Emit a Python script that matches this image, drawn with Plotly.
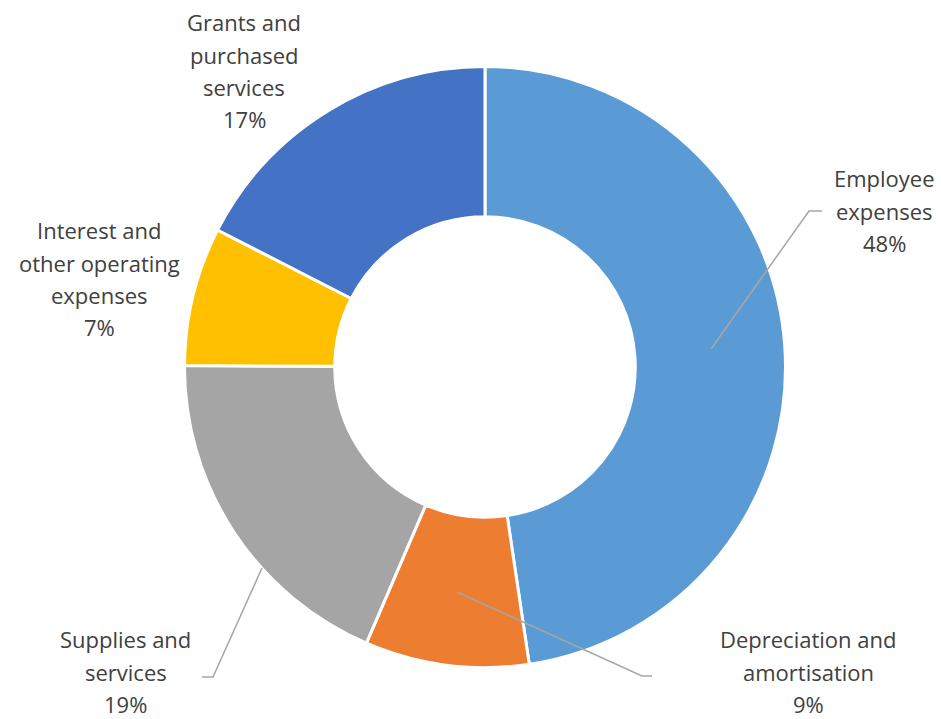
import plotly.graph_objects as go

# ---- data ----
categories = ["Employee expenses", "Depreciation and amortisation", "Supplies and services",
              "Interest and other operating expenses", "Grants and purchased services"]
values = [47.6, 8.8, 18.6, 7.45, 17.45]
colors = ["#5B9BD5", "#ED7D31", "#A5A5A5", "#FFC000", "#4472C4"]
label_lines = [["Employee", "expenses"],
               ["Depreciation and", "amortisation"],
               ["Supplies and", "services"],
               ["Interest and", "other operating", "expenses"],
               ["Grants and", "purchased", "services"]]

# ---- layout config (pixels) ----
W, H = 941, 719
cx, cy, R = 485, 367, 300.5
label_anchor = [(884, 187), (808, 648), (126, 648), (99, 239), (244, 31)]  # center x, first baseline y
line_gap = 32.3
font_size = 22
leaders = [[(711, 349), (809, 211), (822, 211)],
           [(457, 592), (642, 676), (652, 676)],
           [(262, 568), (213, 677), (202, 677)]]

def px(x):
    return x / W

def py(y):
    return 1 - y / H

fig = go.Figure(go.Pie(
    labels=categories, values=values, sort=False, direction="clockwise", rotation=0,
    hole=0.5, textinfo="none", hoverinfo="label+percent",
    marker=dict(colors=colors, line=dict(color="white", width=3)),
    domain=dict(x=[px(cx - R), px(cx + R)], y=[py(cy + R), py(cy - R)]),
    showlegend=False,
))

total = sum(values)
annotations = []
for lines, v, (ax, ay) in zip(label_lines, values, label_anchor):
    all_lines = lines + [f"{round(v / total * 100)}%"]
    for i, t in enumerate(all_lines):
        base = ay + i * line_gap
        mid = base - 0.388 * font_size
        annotations.append(dict(
            x=px(ax), y=py(mid), xref="paper", yref="paper", text=t, showarrow=False,
            xanchor="center", yanchor="middle",
            font=dict(family="Open Sans", size=font_size, color="#404040")))

shapes = []
for pts in leaders:
    path = "M " + " L ".join(f"{px(x)},{py(y)}" for x, y in pts)
    shapes.append(dict(type="path", path=path, xref="paper", yref="paper",
                       line=dict(color="#A6A6A6", width=1.5)))

fig.update_layout(width=W, height=H, margin=dict(l=0, r=0, t=0, b=0),
                  paper_bgcolor="white", plot_bgcolor="white",
                  annotations=annotations, shapes=shapes)
fig.write_html("out.html")
